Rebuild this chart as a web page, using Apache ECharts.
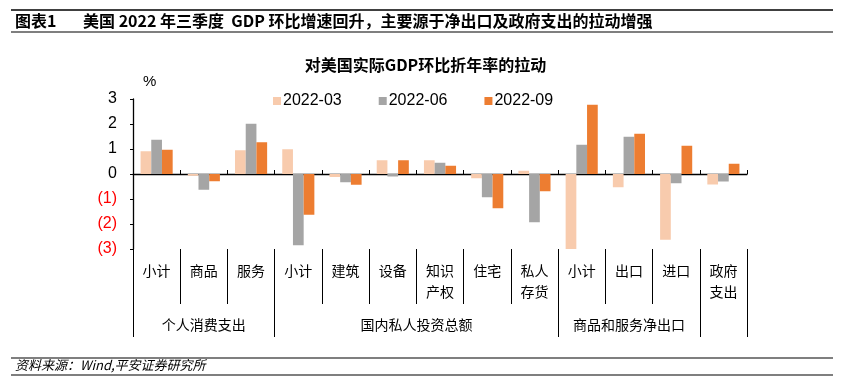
<!DOCTYPE html>
<html><head><meta charset="utf-8">
<script src="https://cdn.jsdelivr.net/npm/echarts@6/dist/echarts.min.js"></script>
<style>html,body{margin:0;padding:0;background:#fff}#c{width:851px;height:386px}</style>
</head><body><div id="c"></div>
<script>
const categories = ['小计','商品','服务','小计','建筑','设备','知识\n产权','住宅','私人\n存货','小计','出口','进口','政府\n支出'];
const groups = ['个人消费支出','国内私人投资总额','商品和服务净出口'];
const groupCenters = [1.5, 6, 10.5];
const groupBounds = [0, 3, 9, 12, 13];
const seriesNames = ['2022-03','2022-06','2022-09'];
const q1 = [0.91,-0.07,0.95,0.99,-0.12,0.55,0.55,-0.17,0.13,-3.05,-0.53,-2.63,-0.42];
const q2 = [1.37,-0.63,2.01,-2.85,-0.33,-0.10,0.45,-0.93,-1.93,1.17,1.49,-0.37,-0.30];
const q3 = [0.97,-0.29,1.27,-1.63,-0.43,0.55,0.33,-1.37,-0.69,2.77,1.61,1.13,0.41];
const colors = ['#F8CBAD','#A5A5A5','#ED7D31'];
const headerLabel = '图表1';
const headerText = '美国 2022 年三季度  GDP 环比增速回升，主要源于净出口及政府支出的拉动增强';
const chartTitle = '对美国实际GDP环比折年率的拉动';
const sourceText = '资料来源：Wind,平安证券研究所';

const chart = echarts.init(document.getElementById('c'), null, {renderer: 'canvas'});
const cjk = '"Noto Sans CJK SC", sans-serif';
const latin = '"Liberation Sans", Arial, sans-serif';
const seriesData = [q1, q2, q3];

const option = {
  animation: false,
  backgroundColor: '#fff',
  title: {
    text: chartTitle, left: 'center', top: 52,
    textStyle: {fontFamily: cjk, fontSize: 16, fontWeight: 'bold', color: '#000'}
  },
  legend: {
    data: seriesNames, left: 273, top: 93, padding: 0, itemWidth: 8, itemHeight: 8, itemGap: 37,
    icon: 'rect',
    textStyle: {fontFamily: latin, fontSize: 16, color: '#000', padding: [0, 0, 0, -3]}
  },
  grid: {left: 133, right: 104, top: 99, bottom: 137, containLabel: false},
  xAxis: [
    {
      type: 'category', data: categories, position: 'bottom',
      axisLine: {onZero: true, lineStyle: {color: '#000', width: 1.3}},
      axisTick: {show: true, inside: true, length: 4, lineStyle: {color: '#000'}},
      axisLabel: {show: false}, splitLine: {show: false}
    },
    {
      type: 'category', data: categories, position: 'bottom', offset: 0,
      axisLine: {show: false, onZero: false},
      axisTick: {show: true, length: 55, interval: 0, lineStyle: {color: '#000'}},
      axisLabel: {show: true, interval: 0, margin: 11, lineHeight: 21,
        fontFamily: cjk, fontSize: 14, color: '#000'},
      splitLine: {show: false}
    },
    {
      type: 'value', min: 0, max: 13, position: 'bottom', offset: 0,
      axisLine: {show: false, onZero: false},
      axisTick: {show: true, length: 88, customValues: groupBounds, lineStyle: {color: '#000'}},
      axisLabel: {show: true, customValues: groupCenters, margin: 69, lineHeight: 14,
        fontFamily: cjk, fontSize: 14, color: '#000',
        formatter: function (v) { const i = groupCenters.indexOf(v); return i >= 0 ? groups[i] : ''; }},
      splitLine: {show: false}
    }
  ],
  yAxis: {
    type: 'value', min: -3, max: 3, interval: 1,
    name: '%', nameLocation: 'end', nameGap: 10,
    nameTextStyle: {fontFamily: latin, fontSize: 15, color: '#000', align: 'left', padding: [0, 0, 0, 10]},
    axisLine: {show: true, onZero: false, lineStyle: {color: '#000', width: 1.3}},
    axisTick: {show: true, length: 3, lineStyle: {color: '#000'}},
    axisLabel: {
      margin: 16, fontFamily: latin, fontSize: 16,
      color: function (v) { return Number(v) < 0 ? '#FF0000' : '#000'; },
      formatter: function (v) { return v < 0 ? '(' + (-v) + ')' : String(v); }
    },
    splitLine: {show: false}
  },
  series: seriesNames.map((n, i) => ({
    name: n, type: 'bar', xAxisIndex: 0, yAxisIndex: 0,
    data: seriesData[i], barGap: '0%', barCategoryGap: '32%',
    itemStyle: {color: colors[i]}
  })),
  graphic: [
    {type: 'line', shape: {x1: 11, y1: 10, x2: 833, y2: 10}, style: {stroke: '#000', lineWidth: 1.5}},
    {type: 'line', shape: {x1: 11, y1: 32, x2: 833, y2: 32}, style: {stroke: '#000', lineWidth: 1.2}},
    {type: 'text', left: 15, top: 13, style: {text: headerLabel, font: 'bold 16px ' + cjk, fill: '#000'}},
    {type: 'text', left: 83, top: 13, style: {text: headerText, font: 'bold 16px ' + cjk, fill: '#000'}},
    {type: 'line', shape: {x1: 11, y1: 358, x2: 833, y2: 358}, style: {stroke: '#000', lineWidth: 1.2}},
    {type: 'line', shape: {x1: 11, y1: 375, x2: 833, y2: 375}, style: {stroke: '#000', lineWidth: 1.2}},
    {type: 'text', left: 15, top: 359, style: {text: sourceText, font: 'italic 13px ' + cjk, fill: '#000'}}
  ]
};
chart.setOption(option);
</script>
</body></html>
